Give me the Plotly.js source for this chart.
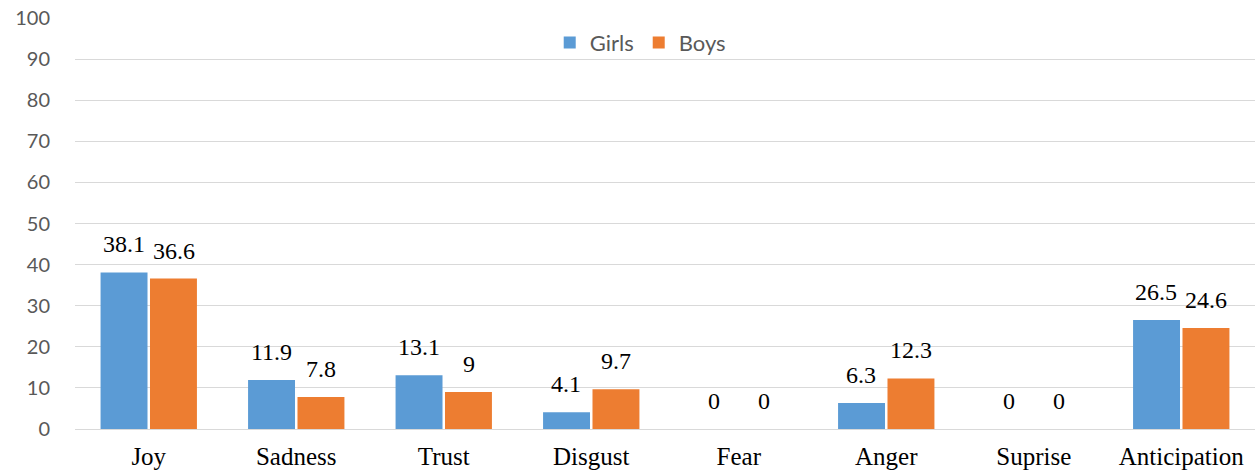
<!DOCTYPE html>
<html>
<head>
<meta charset="utf-8">
<script src="https://cdn.plot.ly/plotly-3.0.1.min.js"></script>
<style>
  body { margin: 0; background: #fff; }
  #chart { width: 1259px; height: 475px; }
</style>
</head>
<body>
<div id="chart"></div>
<script>
// data
const categories = ['Joy', 'Sadness', 'Trust', 'Disgust', 'Fear', 'Anger', 'Suprise', 'Anticipation'];
const girls = [38.1, 11.9, 13.1, 4.1, 0, 6.3, 0, 26.5];
const boys = [36.6, 7.8, 9, 9.7, 0, 12.3, 0, 24.6];

const sansFont = 'Lato, "Liberation Sans", sans-serif';
const serifFont = '"Liberation Serif", "DejaVu Serif", serif';

var trace1 = {
  name: 'Girls',
  type: 'bar',
  x: categories,
  y: girls,
  marker: { color: '#5B9BD5' }
};

var trace2 = {
  name: 'Boys',
  type: 'bar',
  x: categories,
  y: boys,
  marker: { color: '#ED7D31' }
};

// value labels, placed over each bar
function labels(values, shift) {
  return values.map(function (v, i) {
    return {
      x: categories[i], y: v, xref: 'x', yref: 'y',
      text: String(v), showarrow: false,
      xanchor: 'center', yanchor: 'bottom',
      xshift: shift, yshift: 13,
      font: { family: serifFont, size: 24, color: '#000' }
    };
  });
}

var layout = {
  width: 1259,
  height: 475,
  margin: { l: 75, r: 4, t: 18, b: 46 },
  paper_bgcolor: '#fff',
  plot_bgcolor: '#fff',
  barmode: 'group',
  bargap: 0.33,
  bargroupgap: 0.05,
  showlegend: true,
  legend: {
    orientation: 'h',
    x: 0.479, xanchor: 'center',
    y: 0.94, yanchor: 'middle',
    font: { family: sansFont, size: 22, color: '#595959' },
    bgcolor: 'rgba(0,0,0,0)'
  },
  xaxis: {
    type: 'category',
    showgrid: false,
    showline: false,
    zeroline: false,
    ticks: '',
    ticklabelstandoff: 10,
    tickfont: { family: serifFont, size: 25, color: '#000' }
  },
  yaxis: {
    range: [0, 100],
    dtick: 10,
    showgrid: true,
    gridcolor: '#D9D9D9',
    gridwidth: 1.3,
    zeroline: true,
    zerolinecolor: '#D9D9D9',
    zerolinewidth: 1.3,
    showline: false,
    ticks: '',
    ticklabelstandoff: 24,
    tickfont: { family: sansFont, size: 20, color: '#595959' }
  },
  annotations: labels(girls, -25).concat(labels(boys, 25))
};

Plotly.newPlot('chart', [trace1, trace2], layout, { displayModeBar: false });
</script>
</body>
</html>
